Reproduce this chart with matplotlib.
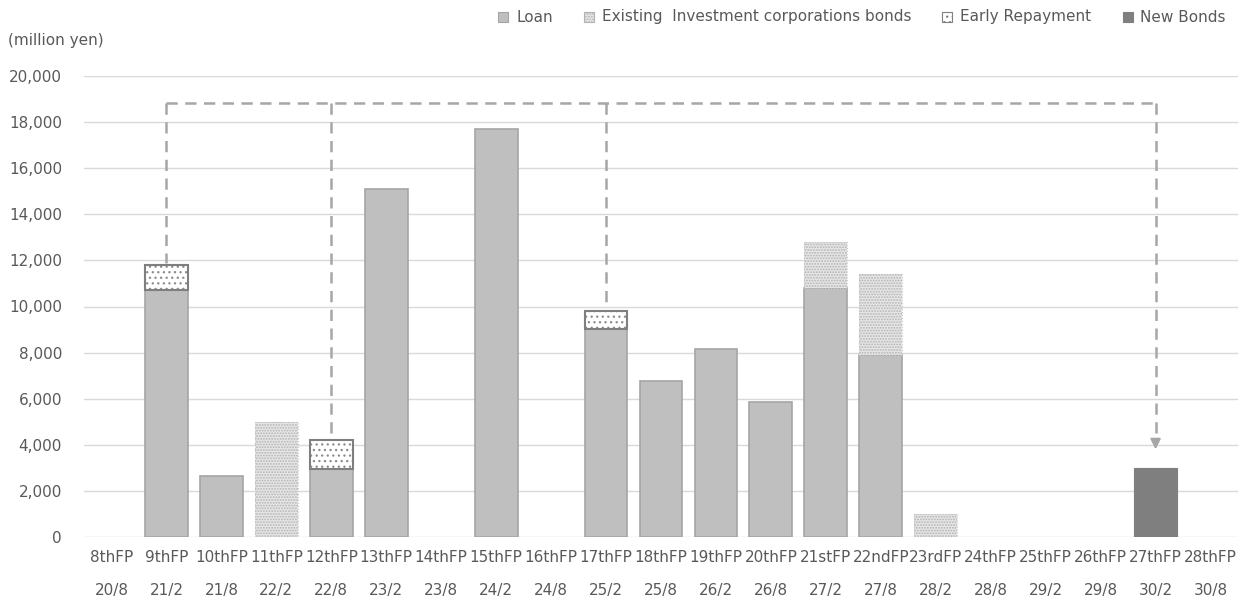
import matplotlib
matplotlib.use("Agg")
import matplotlib.pyplot as plt
from matplotlib.patches import Rectangle
import numpy as np

# ---- data ----
periods = ["8thFP", "9thFP", "10thFP", "11thFP", "12thFP", "13thFP", "14thFP",
           "15thFP", "16thFP", "17thFP", "18thFP", "19thFP", "20thFP", "21stFP",
           "22ndFP", "23rdFP", "24thFP", "25thFP", "26thFP", "27thFP", "28thFP"]
dates = ["20/8", "21/2", "21/8", "22/2", "22/8", "23/2", "23/8", "24/2", "24/8",
         "25/2", "25/8", "26/2", "26/8", "27/2", "27/8", "28/2", "28/8", "29/2",
         "29/8", "30/2", "30/8"]
loan = [0, 10730, 2640, 0, 2970, 15100, 0, 17700, 0, 9020, 6750, 8150, 5870,
        10810, 7910, 0, 0, 0, 0, 0, 0]
existing_bonds = [0, 0, 0, 5000, 0, 0, 0, 0, 0, 0, 0, 0, 0,
                  2000, 3510, 1000, 0, 0, 0, 0, 0]
early_repayment = [0, 1080, 0, 0, 1230, 0, 0, 0, 0, 790, 0, 0, 0,
                   0, 0, 0, 0, 0, 0, 0, 0]
new_bonds = [0, 0, 0, 0, 0, 0, 0, 0, 0, 0, 0, 0, 0,
             0, 0, 0, 0, 0, 0, 3000, 0]
arrow_sources = ["9thFP", "12thFP", "17thFP"]
arrow_target = "27thFP"
arrow_level = 18850
arrow_tip = 3800
yticks = [0, 2000, 4000, 6000, 8000, 10000, 12000, 14000, 16000, 18000, 20000]
legend_labels = ["Loan", "Existing  Investment corporations bonds",
                 "Early Repayment", "New Bonds"]

TXT = "#595959"
GRID = "#d9d9d9"
LOAN_C = "#bfbfbf"
LOAN_E = "#a5a5a5"
NEW_C = "#7f7f7f"
DASH_C = "#a6a6a6"
FS = 11

plt.rcParams["font.family"] = ["DejaVu Sans"]
plt.rcParams["hatch.linewidth"] = 0.9

W, H = 1248, 603
fig = plt.figure(figsize=(W / 100, H / 100), dpi=100)
ax = fig.add_axes([84 / W, 1 - 537 / H, (1238 - 84) / W, (537 - 76) / H])

x = np.arange(len(periods))
w = 0.78
loan = np.array(loan, float)
eb = np.array(existing_bonds, float)
er = np.array(early_repayment, float)
nb = np.array(new_bonds, float)

EB_STYLE = dict(facecolor="#e6e6e6", edgecolor="#b3b3b3", hatch="......")
ER_STYLE = dict(facecolor="white", edgecolor="#8c8c8c", hatch="...")

# loan
m = loan > 0
ax.bar(x[m], loan[m], w, color=LOAN_C, edgecolor=LOAN_E, linewidth=1.2, zorder=3)
# existing bonds (stippled)
m = eb > 0
ax.bar(x[m], eb[m], w, bottom=loan[m], color=EB_STYLE["facecolor"],
       edgecolor=EB_STYLE["edgecolor"], linewidth=0, hatch=EB_STYLE["hatch"], zorder=3)
ax.bar(x[m], eb[m], w, bottom=loan[m], fill=False, edgecolor="#c8c8c8",
       linewidth=0.8, linestyle=":", zorder=4)
# early repayment
m = er > 0
ax.bar(x[m], er[m], w, bottom=loan[m], color=ER_STYLE["facecolor"],
       edgecolor=ER_STYLE["edgecolor"], linewidth=0, hatch=ER_STYLE["hatch"], zorder=3)
ax.bar(x[m], er[m], w, bottom=loan[m], fill=False, edgecolor="#7f7f7f",
       linewidth=1.5, zorder=4)
# new bonds
m = nb > 0
ax.bar(x[m], nb[m], w, color=NEW_C, edgecolor=NEW_C, linewidth=0.8, zorder=3)

# dashed refinancing arrows
totals = loan + eb + er + nb
src_idx = [periods.index(s) for s in arrow_sources]
tgt_idx = periods.index(arrow_target)
dash = dict(color=DASH_C, lw=1.8, dashes=(4.5, 3.0), zorder=5, clip_on=False)
ax.plot([src_idx[0], tgt_idx], [arrow_level, arrow_level], **dash)
for i in src_idx:
    ax.plot([i, i], [arrow_level, totals[i] + 60], **dash)
ax.plot([tgt_idx, tgt_idx], [arrow_level, arrow_tip + 350], **dash)
ax.annotate("", xy=(tgt_idx, arrow_tip), xytext=(tgt_idx, arrow_tip + 450),
            arrowprops=dict(arrowstyle="-|>,head_length=0.6,head_width=0.3",
                            color=DASH_C, lw=1.5, shrinkA=0, shrinkB=0), zorder=5)

# axes styling
ax.set_xlim(-0.5, len(periods) - 0.5)
ax.set_ylim(0, 20000)
ax.set_yticks(yticks)
ax.set_yticklabels([f"{v:,}" for v in yticks])
ax.tick_params(axis="y", length=0, pad=15.8, labelsize=FS, labelcolor=TXT)
ax.set_xticks([])
ax.grid(axis="y", color=GRID, lw=1.0, zorder=0)
ax.set_axisbelow(True)
for s in ax.spines.values():
    s.set_visible(False)

for i, (p, d) in enumerate(zip(periods, dates)):
    ax.annotate(p, xy=(i, 0), xycoords=("data", "axes fraction"),
                xytext=(0, -15.1), textcoords="offset points",
                ha="center", va="center", fontsize=FS, color=TXT)
    ax.annotate(d, xy=(i, 0), xycoords=("data", "axes fraction"),
                xytext=(0, -38.2), textcoords="offset points",
                ha="center", va="center", fontsize=FS, color=TXT)

fig.text(8 / W, 1 - 40 / H, "(million yen)", ha="left", va="center",
         fontsize=FS, color=TXT)

# legend (manual, laid out right to left)
styles = [dict(facecolor=LOAN_C, edgecolor=LOAN_E, hatch=None),
          EB_STYLE,
          dict(facecolor="white", edgecolor="#7f7f7f", hatch=ER_STYLE["hatch"]),
          dict(facecolor=NEW_C, edgecolor=NEW_C, hatch=None)]
renderer = fig.canvas.get_renderer()
ly = 17
sz = 10
right = 1226
for label, st in reversed(list(zip(legend_labels, styles))):
    t = fig.text(right / W, 1 - ly / H, label, ha="right", va="center",
                 fontsize=FS, color=TXT)
    tw = t.get_window_extent(renderer).width
    left = right - tw
    mx = left - 13
    r = Rectangle(((mx - sz / 2) / W, 1 - (ly + sz / 2) / H), sz / W, sz / H,
                  transform=fig.transFigure, facecolor=st["facecolor"],
                  edgecolor=st["edgecolor"], hatch=st["hatch"], linewidth=0.8)
    fig.add_artist(r)
    right = mx - 36

fig.savefig("out.png", dpi=100)
